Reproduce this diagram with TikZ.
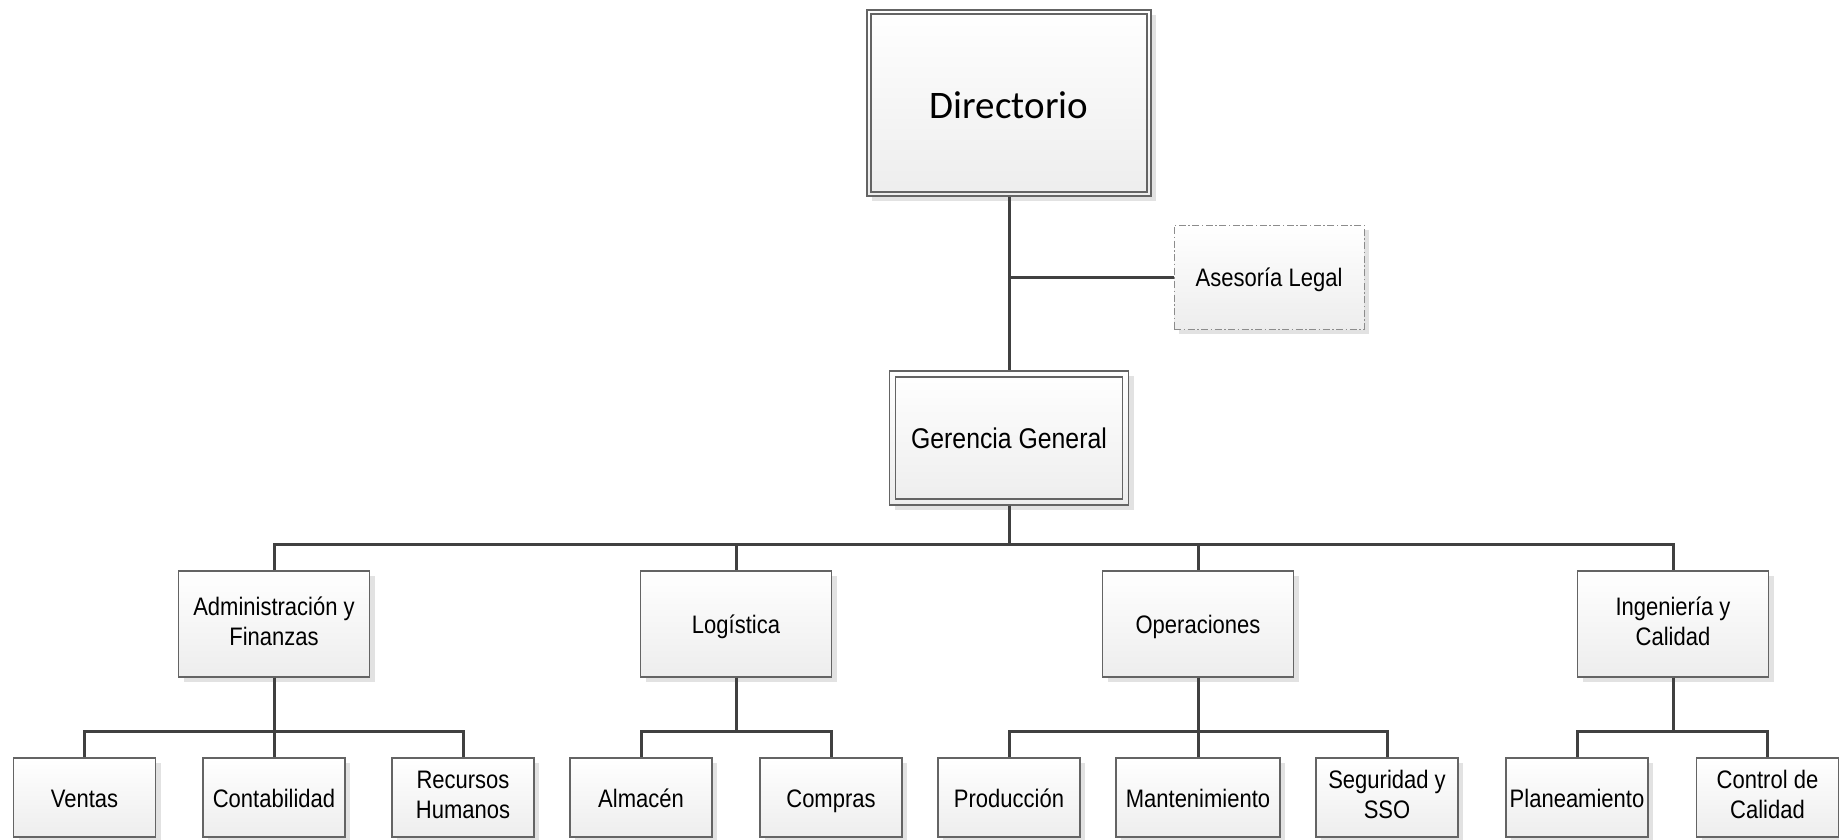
\documentclass[tikz,border=0pt]{standalone}
\usepackage{fontspec}
\setmainfont{Liberation Sans}
\newfontfamily\labelfont[FakeStretch=0.87]{Liberation Sans}
\newfontfamily\calibrifam{Carlito}
\usetikzlibrary{shadows}

\definecolor{linegray}{HTML}{404040}
\definecolor{framegray}{HTML}{646464}
\definecolor{shadowgray}{HTML}{E2E2E2}
\definecolor{fillbottom}{HTML}{EDEDED}
\definecolor{dashgray}{HTML}{8C8C8C}

% fixed line box so every label sits at the same height
\newcommand\linestrut{\rule[-5.5pt]{0pt}{30pt}}

\tikzset{
  unit/.style={rectangle, draw=framegray, line width=1.3pt,
    top color=white, bottom color=fillbottom, inner sep=0pt, align=center,
    font=\labelfont\fontsize{25.3}{30}\selectfont,
    execute at begin node=\linestrut, execute at end node=\linestrut,
    drop shadow={shadow xshift=5pt, shadow yshift=-5pt, fill=shadowgray, opacity=1}},
  midbox/.style={unit, minimum width=191pt, minimum height=106pt},
  leafbox/.style={unit, minimum width=142pt, minimum height=79pt},
  innerframe/.style={rectangle, draw=framegray, line width=1.3pt, inner sep=0pt,
    align=center},
  advisor/.style={unit, draw=dashgray, line width=1pt,
    dash pattern=on 7pt off 2.5pt on 1.5pt off 2.5pt,
    minimum width=190pt, minimum height=104pt},
  conn/.style={draw=linegray, line width=3pt}
}

\begin{document}
\begin{tikzpicture}[x=1pt, y=-1pt]
\useasboundingbox (0,0) rectangle (1839,839);

% top levels
\node[unit, minimum width=284pt, minimum height=186pt] (dir) at (1009,103) {};
\node[innerframe, minimum width=276pt, minimum height=178pt,
      font=\calibrifam\fontsize{39}{46}\selectfont] (dirtxt) at (dir.center)
      {\rule{0pt}{32pt}Directorio};
\node[advisor] (ase) at (1269,277) {Asesoría Legal};
\node[unit, minimum width=239pt, minimum height=134pt] (ger) at (1009,438) {};
\node[innerframe, minimum width=227pt, minimum height=122pt,
      font=\labelfont\fontsize{28.5}{32}\selectfont] (gertxt) at (ger.center) {Gerencia General};

% departments
\node[midbox] (adm) at (274,624) {Administración y\\Finanzas};
\node[midbox] (log) at (736,624) {Logística};
\node[midbox] (ope) at (1198,624) {Operaciones};
\node[midbox] (ing) at (1673,624) {Ingeniería y\\Calidad};

% sections
\node[leafbox] (ven) at (84.5,797.5) {Ventas};
\node[leafbox] (con) at (274,797.5) {Contabilidad};
\node[leafbox] (rrh) at (463,797.5) {Recursos\\Humanos};
\node[leafbox] (alm) at (641,797.5) {Almacén};
\node[leafbox] (com) at (831,797.5) {Compras};
\node[leafbox] (pro) at (1009,797.5) {Producción};
\node[leafbox, minimum width=164pt] (man) at (1198,797.5) {Mantenimiento};
\node[leafbox] (seg) at (1387,797.5) {Seguridad y\\SSO};
\node[leafbox] (pla) at (1577,797.5) {Planeamiento};
\node[leafbox] (cal) at (1767.5,797.5) {Control de\\Calidad};

% connectors
\draw[conn] (dir.south) -- (ger.north);
\draw[conn] (dir.south |- ase.west) -- (ase.west);
\foreach \d in {adm,log,ope,ing}
  \draw[conn] (ger.south) -- ++(0,39) -| (\d.north);
\foreach \p/\c in {adm/ven,adm/con,adm/rrh,log/alm,log/com,ope/pro,ope/man,ope/seg,ing/pla,ing/cal}
  \draw[conn] (\p.south) -- ++(0,54) -| (\c.north);
\end{tikzpicture}
\end{document}
